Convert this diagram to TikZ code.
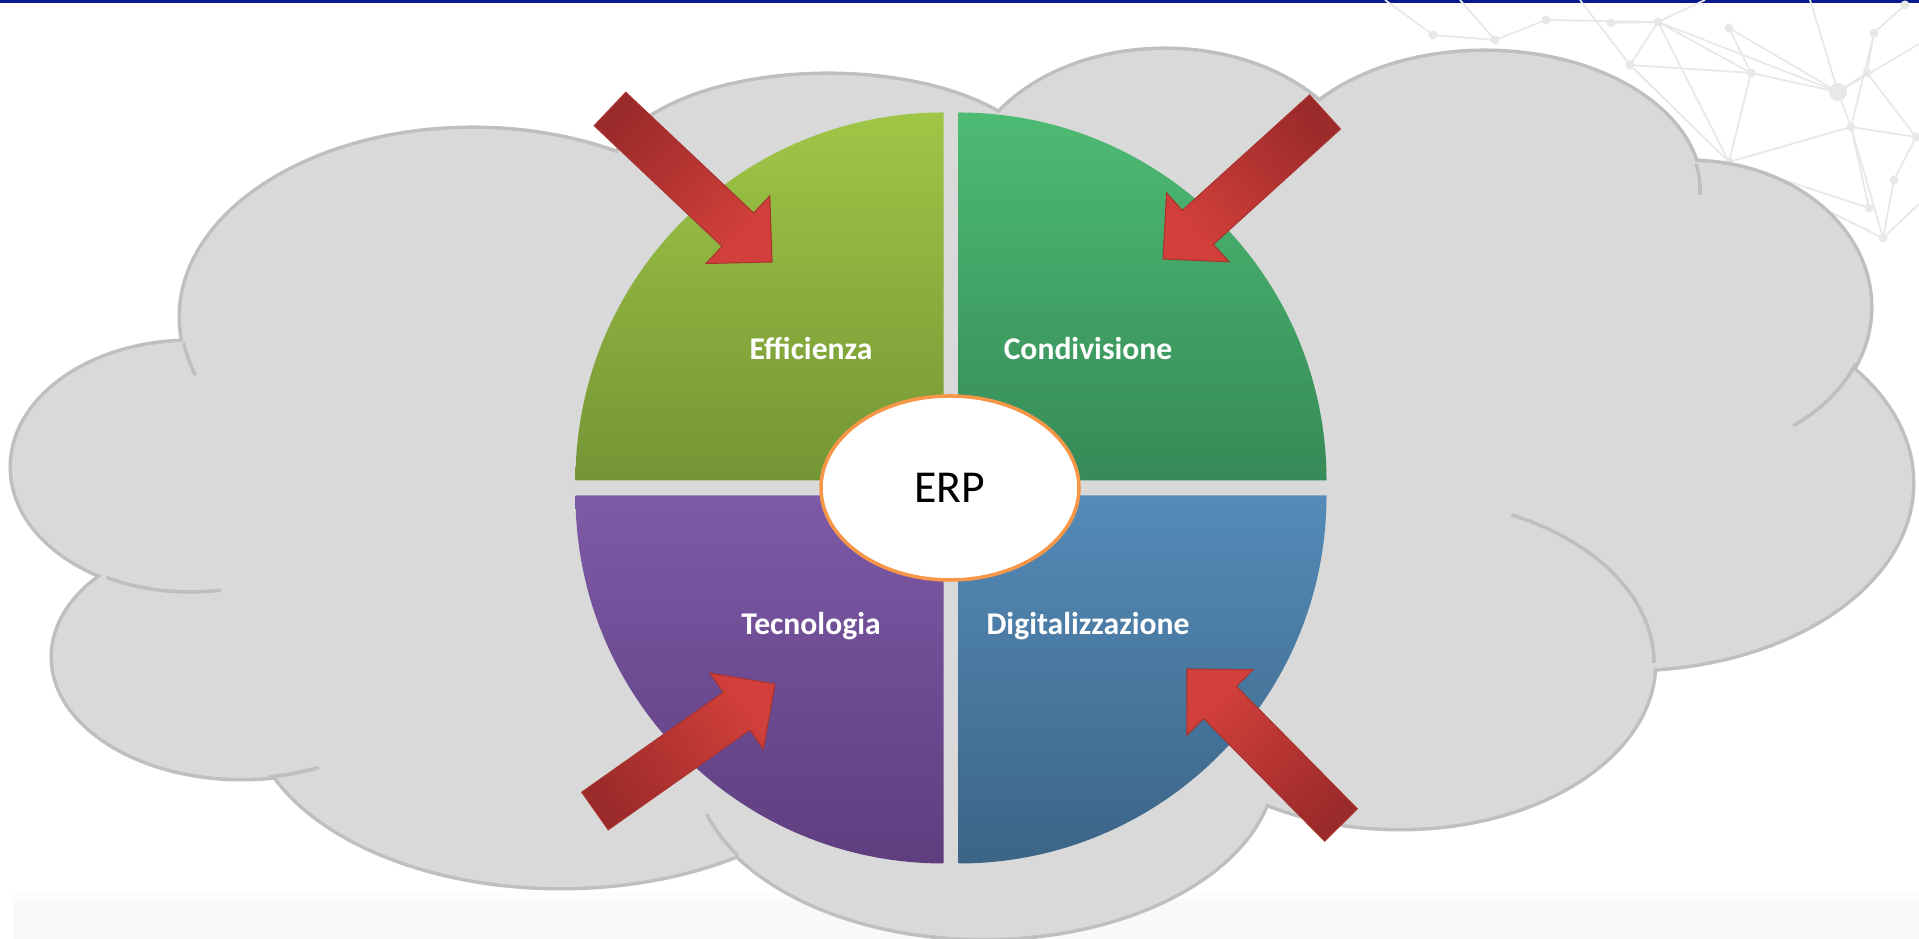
\documentclass[tikz,border=0pt]{standalone}
\usepackage{fontspec}
\setmainfont{Carlito}
\usepackage{xcolor}
\usepackage{tikz}
\usetikzlibrary{calc,shapes.geometric}

\definecolor{topblue}{HTML}{0A1A8C}
\definecolor{cloudgray}{HTML}{D9D9D9}
\definecolor{cloudedge}{HTML}{BFBFBF}
\definecolor{netgray}{HTML}{E8E8E8}
\definecolor{effTop}{HTML}{9FC646}
\definecolor{effBot}{HTML}{749535}
\definecolor{conTop}{HTML}{4DBB74}
\definecolor{conBot}{HTML}{368A57}
\definecolor{tecTop}{HTML}{7D5AA7}
\definecolor{tecBot}{HTML}{5E3E7F}
\definecolor{digTop}{HTML}{548BB8}
\definecolor{digBot}{HTML}{3C6486}
\definecolor{erpOrange}{HTML}{F79646}
\definecolor{arrowDark}{HTML}{9B2A2A}
\definecolor{arrowLight}{HTML}{D3403B}
\definecolor{bandgray}{HTML}{F9F9F9}

% block arrow: tail, tip, shading angle
\newcommand{\blockarrow}[3]{%
    \coordinate (neck) at ($(#2)!0.47cm!(#1)$);
    \shade[redarrow, shading angle=#3]
        ($(#1)!0.23cm!90:(#2)$) -- ($(neck)!0.23cm!90:(#2)$) -- ($(neck)!0.465cm!90:(#2)$) -- (#2)
        -- ($(neck)!0.465cm!-90:(#2)$) -- ($(neck)!0.23cm!-90:(#2)$) -- ($(#1)!0.23cm!-90:(#2)$) -- cycle;
}

\begin{document}
\begin{tikzpicture}[
    bump/.style={draw=cloudedge, line width=2pt},
    curl/.style={draw=cloudedge, line width=1pt},
    netline/.style={draw=netgray, line width=0.5pt},
    netdot/.style={fill=netgray},
    quadtext/.style={anchor=base, text=white, inner sep=0pt, font=\bfseries\fontsize{9}{11}\selectfont},
    redarrow/.style={top color=arrowLight, bottom color=arrowDark, draw=arrowLight!80!black, line width=0.3pt}
]
                            \useasboundingbox (0,0) rectangle (19.19,9.39);
                            \fill[topblue] (0,9.36) rectangle (19.19,9.39);
                            \fill[bandgray] (0.13,0) rectangle (19.19,0.36);
                            \shade[top color=white, bottom color=bandgray] (0.13,0.36) rectangle (19.19,0.50);

                            % network in the corner
                            \foreach \p/\x/\y in {n1/16.58/9.17, n2/17.51/8.66, n3/18.38/8.47, n4/18.51/8.12, n5/18.74/9.06,
                                n6/18.83/7.01, n7/17.29/9.11, n8/16.11/9.16, n9/17.29/7.77, n10/14.33/9.04, n11/14.95/8.99,
                                n12/15.46/9.19, n13/19.16/8.02, n14/19.05/9.34, n15/18.67/8.66, n16/16.30/8.74, n17/18.94/7.59,
                                n18/18.69/7.31, e1/13.85/9.39, e2/14.60/9.39, e3/15.80/9.39, e4/17.05/9.39, e5/18.10/9.39,
                                e6/19.19/8.95, e7/19.19/7.35}{
                                \coordinate (\p) at (\x,\y);
                            }
                            \foreach \a/\b in {n1/n2, n1/n3, n1/n9, n1/n16, n2/n3, n2/n9, n3/n4, n3/n15, n4/n9, n4/n6,
                                n4/n13, n5/n15, n5/n4, n7/n2, n8/n1, n16/n9, n9/n6, n10/n11, n11/n12, n12/n1, n6/n17,
                                n17/n13, n14/n5, n18/n4, n16/n2, e1/n10, e2/n11, e3/n16, e4/n1, e5/n3, e6/n3, e7/n6,
                                n18/n9, n15/n13, n7/n3}{
                                \draw[netline] (\a) -- (\b);
                            }
                            \foreach \p in {n1,n2,n4,n5,n6,n7,n8,n9,n10,n11,n12,n13,n14,n15,n16,n17,n18}{
                                \fill[netdot] (\p) circle (0.045);
                            }
                            \fill[netdot] (n3) circle (0.09);

                            % cloud
                            \def\bumps{4.73/6.22/2.92/1.88, 1.90/4.72/1.78/1.25, 2.42/2.82/1.89/1.21, 5.61/2.33/3.10/1.81,
                                9.84/1.76/2.90/1.75, 14.00/2.76/2.54/1.65, 16.28/4.56/2.84/1.86, 16.90/6.32/1.80/1.45,
                                14.85/7.49/2.15/1.38, 11.65/7.46/2.00/1.43, 8.28/7.66/2.15/0.98}
                            \foreach \cx/\cy/\rx/\ry in \bumps{
                                \draw[bump] (\cx,\cy) ellipse [x radius=\rx, y radius=\ry];
                            }
                            \foreach \cx/\cy/\rx/\ry in \bumps{
                                \fill[cloudgray] (\cx,\cy) ellipse [x radius=\rx, y radius=\ry];
                            }
                            \fill[cloudgray] (9.6,4.6) ellipse [x radius=6.75, y radius=2.75];
                            \foreach \cx/\cy/\rx/\ry/\a/\b in {4.73/6.22/2.92/1.88/188/198, 1.90/4.72/1.78/1.25/242/280,
                                2.42/2.82/1.89/1.21/278/294, 9.84/1.76/2.90/1.75/197/212, 14.00/2.76/2.54/1.65/64/0,
                                16.90/6.32/1.80/1.45/-23/-55, 14.85/7.49/2.15/1.38/11/-2}{
                                \draw[curl] (\cx,\cy) ++(\a:\rx cm and \ry cm) arc[start angle=\a, end angle=\b, x radius=\rx, y radius=\ry];
                            }

                            % the four quarters
                            \shade[top color=effTop, bottom color=effBot] (9.435,4.585) -- (5.755,4.585) arc[start angle=180, end angle=90, radius=3.68] -- cycle;
                            \shade[top color=conTop, bottom color=conBot] (9.585,4.585) -- (9.585,8.265) arc[start angle=90, end angle=0, radius=3.68] -- cycle;
                            \shade[top color=tecTop, bottom color=tecBot] (9.435,4.435) -- (5.755,4.435) arc[start angle=180, end angle=270, radius=3.68] -- cycle;
                            \shade[top color=digTop, bottom color=digBot] (9.585,4.435) -- (9.585,0.755) arc[start angle=270, end angle=360, radius=3.68] -- cycle;

                            \node (eff) [quadtext] at (8.11,5.79) {Efficienza};
                            \node (con) [quadtext] at (10.88,5.79) {Condivisione};
                            \node (tec) [quadtext] at (8.11,3.04) {Tecnologia};
                            \node (dig) [quadtext] at (10.88,3.04) {Digitalizzazione};

                            \node (erp) [ellipse, draw=erpOrange, fill=white, line width=1pt, inner sep=0pt,
                                minimum width=2.58cm, minimum height=1.84cm, font=\fontsize{13}{15}\selectfont] at (9.50,4.51) {ERP};

                            % arrows
                            \coordinate (effTail) at (6.10,8.30);
                            \coordinate (effTip) at (7.72,6.77);
                            \coordinate (conTail) at (13.25,8.27);
                            \coordinate (conTip) at (11.63,6.80);
                            \coordinate (tecTail) at (5.95,1.28);
                            \coordinate (tecTip) at (7.75,2.55);
                            \coordinate (digTail) at (13.41,1.14);
                            \coordinate (digTip) at (11.87,2.70);
                            \blockarrow{effTail}{effTip}{-133.4}
                            \blockarrow{conTail}{conTip}{132.2}
                            \blockarrow{tecTail}{tecTip}{-54.8}
                            \blockarrow{digTail}{digTip}{44.6}
                        \end{tikzpicture}
\end{document}
